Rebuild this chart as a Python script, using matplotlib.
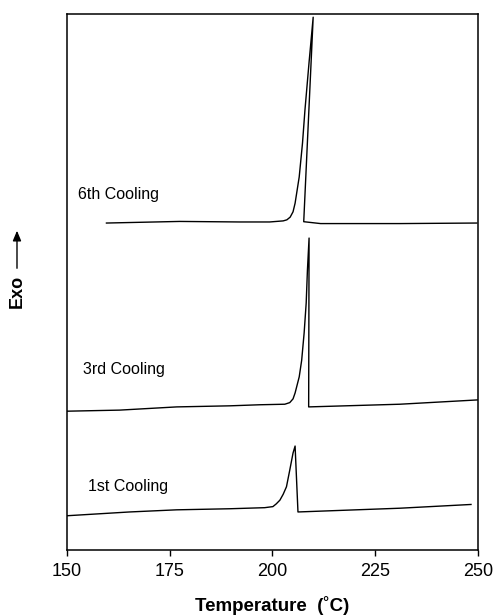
import matplotlib
matplotlib.use("Agg")
import matplotlib.pyplot as plt

plt.rcParams['font.family'] = ['Liberation Sans', 'DejaVu Sans']

# DSC cooling traces (temperature in C, exotherm signal in arbitrary units)
temp_6th = [159.6, 177.4, 192.0, 199.3, 202.6, 203.5, 204.3, 205.0, 205.5, 206.5,
            207.3, 207.9, 208.9, 209.9, 207.6, 211.7, 231.0, 249.7]
exo_6th = [61.0, 61.3, 61.2, 61.2, 61.4, 61.6, 62.1, 63.1, 64.7, 69.6,
           75.9, 82.1, 91.0, 99.4, 61.25, 60.9, 60.9, 61.0]

temp_3rd = [150.0, 162.8, 176.7, 189.6, 196.9, 203.0, 204.2, 205.0, 205.5, 206.0,
            206.5, 207.1, 207.7, 208.2, 208.5, 208.9, 208.8, 231.0, 249.8]
exo_3rd = [25.9, 26.1, 26.7, 26.9, 27.1, 27.2, 27.5, 28.2, 29.3, 30.8,
           32.3, 35.4, 40.5, 46.1, 52.2, 58.2, 26.7, 27.2, 28.0]

temp_1st = [150.1, 165.2, 176.7, 189.6, 198.1, 200.1, 200.9, 201.8, 202.6, 203.4,
            204.2, 205.0, 205.5, 206.2, 231.0, 248.3]
exo_1st = [6.4, 7.1, 7.5, 7.7, 7.9, 8.1, 8.6, 9.3, 10.4, 11.8,
           14.9, 18.1, 19.4, 7.1, 7.8, 8.5]

labels = ['6th Cooling', '3rd Cooling', '1st Cooling']
label_pos = [(152.8, 66.4), (154.0, 33.6), (155.0, 11.9)]
xticks = [150, 175, 200, 225, 250]

fig = plt.figure(figsize=(4.94, 6.16), dpi=100)
ax = fig.add_axes([0.1356, 0.1071, 0.8320, 0.8702])

for t, e in [(temp_6th, exo_6th), (temp_3rd, exo_3rd), (temp_1st, exo_1st)]:
    ax.plot(t, e, color='black', lw=1.0)

for lab, (x, y) in zip(labels, label_pos):
    ax.text(x, y, lab, fontsize=11.5, va='center', ha='left')

ax.set_xlim(150, 250)
ax.set_ylim(0, 100)
ax.set_xticks(xticks)
ax.set_yticks([])
ax.tick_params(axis='x', direction='out', length=4, width=1.0, labelsize=13, pad=5)
for s in ax.spines.values():
    s.set_linewidth(1.1)

ax.set_xlabel('Temperature  (˚C)', fontsize=13.5, fontweight='bold', labelpad=12)

# Exo arrow on the left
fig.text(0.0344, 0.527, 'Exo', rotation=90, fontsize=13, fontweight='bold',
         ha='center', va='center')
fig.patches.append(matplotlib.patches.FancyArrowPatch(
    (0.0344, 0.560), (0.0344, 0.630), transform=fig.transFigure,
    arrowstyle='-|>,head_length=6,head_width=2.5', color='black', lw=1.0))

fig.savefig('out.png', dpi=100)
